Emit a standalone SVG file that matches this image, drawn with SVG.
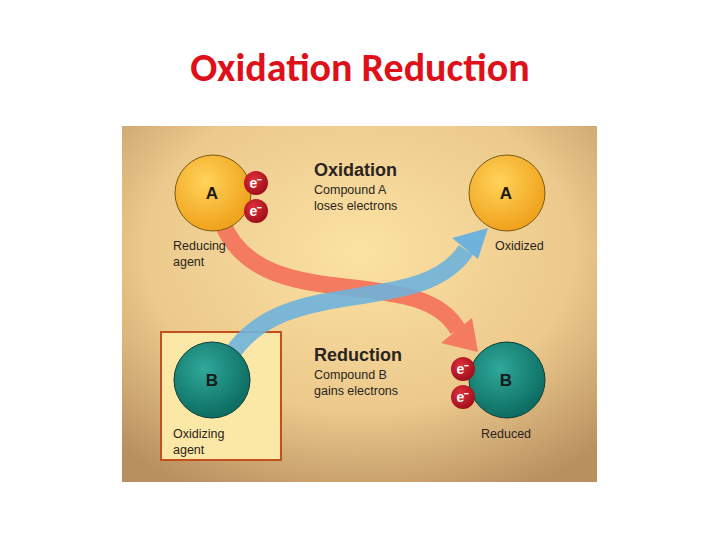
<svg xmlns="http://www.w3.org/2000/svg" width="720" height="540" viewBox="0 0 720 540">
<style>
.t{font-family:"Liberation Sans",Arial,sans-serif;fill:#2a2420}
.h{font-weight:bold;font-size:18px}
.s{font-size:12.5px}
.l{font-weight:bold;font-size:17px;text-anchor:middle;fill:#1a1a1a;font-family:"Liberation Sans",Arial,sans-serif}
.e{font-family:"Liberation Sans",Arial,sans-serif;font-size:14px;fill:#fff;font-weight:bold;text-anchor:middle}
</style>
<defs>
<radialGradient id="bg" cx="0.5" cy="0.35" r="0.75">
<stop offset="0" stop-color="#fbe2a3"/><stop offset="0.6" stop-color="#ecc98c"/><stop offset="1" stop-color="#b88f5f"/>
</radialGradient>
<radialGradient id="ga" cx="0.4" cy="0.35" r="0.65"><stop offset="0" stop-color="#ffd35a"/><stop offset="1" stop-color="#f0a21c"/></radialGradient>
<radialGradient id="gb" cx="0.4" cy="0.35" r="0.65"><stop offset="0" stop-color="#2fa89a"/><stop offset="1" stop-color="#0d6d62"/></radialGradient>
<radialGradient id="ge" cx="0.4" cy="0.35" r="0.7"><stop offset="0" stop-color="#e0303a"/><stop offset="1" stop-color="#9c0c18"/></radialGradient>
</defs>
<text x="360" y="81" text-anchor="middle" font-family="Carlito,'Liberation Sans',sans-serif" font-weight="bold" font-size="40" fill="#e0101a">Oxidation Reduction</text>
<rect x="122" y="126" width="475" height="356" fill="url(#bg)"/>
<rect id="boxB" x="161" y="332" width="120" height="128" fill="#fbe7a6" stroke="#c0501e" stroke-width="2"/>
<g id="connectors">
<path d="M 222 222 C 260 320, 420 260, 458 330" fill="none" stroke="#f47a60" stroke-width="17"/>
<polygon points="478,352 441,343 472,318" fill="#f47a60"/>
<path d="M 228 360 C 280 270, 420 320, 466 250" fill="none" stroke="#6fb3dc" stroke-width="17" opacity="0.9"/>
<polygon points="488,228 478,259 452,238" fill="#6fb3dc"/>
</g>
<g id="nodeA1"><circle cx="213" cy="193" r="38" fill="url(#ga)" stroke="#7a5a10" stroke-width="1"/><text class="l" x="212" y="199">A</text></g>
<g id="e1"><circle cx="256" cy="183" r="12" fill="url(#ge)"/><text class="e" x="256" y="188">e⁻</text></g>
<g id="e2"><circle cx="256" cy="211" r="12" fill="url(#ge)"/><text class="e" x="256" y="216">e⁻</text></g>
<g id="nodeA2"><circle cx="507" cy="193" r="38" fill="url(#ga)" stroke="#7a5a10" stroke-width="1"/><text class="l" x="506" y="199">A</text></g>
<g id="nodeB1"><circle cx="212" cy="380" r="38" fill="url(#gb)" stroke="#0a3d36" stroke-width="1"/><text class="l" x="212" y="386">B</text></g>
<g id="nodeB2"><circle cx="507" cy="380" r="38" fill="url(#gb)" stroke="#0a3d36" stroke-width="1"/><text class="l" x="506" y="386">B</text></g>
<g id="e3"><circle cx="463" cy="369" r="12" fill="url(#ge)"/><text class="e" x="463" y="374">e⁻</text></g>
<g id="e4"><circle cx="463" cy="397" r="12" fill="url(#ge)"/><text class="e" x="463" y="402">e⁻</text></g>
<text class="t h" x="314" y="176">Oxidation</text>
<text class="t s" x="314" y="194">Compound A</text>
<text class="t s" x="314" y="210">loses electrons</text>
<text class="t h" x="314" y="361">Reduction</text>
<text class="t s" x="314" y="379">Compound B</text>
<text class="t s" x="314" y="395">gains electrons</text>
<text class="t s" x="173" y="250">Reducing</text>
<text class="t s" x="173" y="266">agent</text>
<text class="t s" x="495" y="250">Oxidized</text>
<text class="t s" x="173" y="438">Oxidizing</text>
<text class="t s" x="173" y="454">agent</text>
<text class="t s" x="481" y="438">Reduced</text>
</svg>
